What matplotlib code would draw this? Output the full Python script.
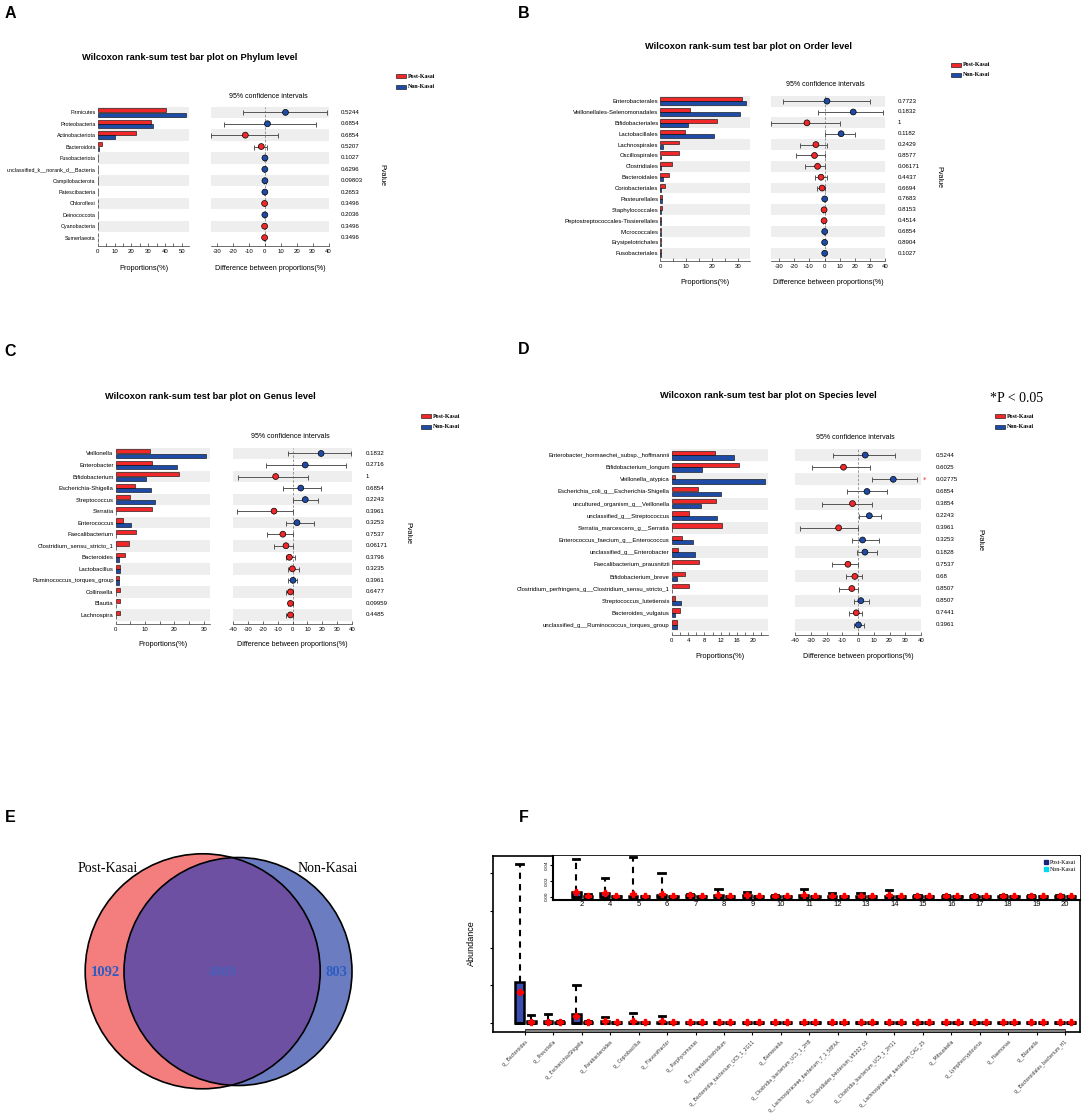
import numpy as np
import matplotlib.pyplot as plt
from matplotlib.patches import Rectangle, Circle
from matplotlib.lines import Line2D
from matplotlib.transforms import blended_transform_factory

plt.rcParams['axes.unicode_minus'] = False
NARROW = ['Liberation Sans Narrow', 'Liberation Sans', 'DejaVu Sans']
SERIF = ['Liberation Serif', 'DejaVu Serif']
SANS = ['Liberation Sans', 'DejaVu Sans']
RED = '#F0282A'
BLUE = '#1E4BA6'
BAND = '#EEEEEE'

# ---------------- data ----------------
a_names = ['Firmicutes', 'Proteobacteria', 'Actinobacteriota', 'Bacteroidota', 'Fusobacteriota',
           'unclassified_k__norank_d__Bacteria', 'Campilobacterota', 'Patescibacteria', 'Chloroflexi',
           'Deinococcota', 'Cyanobacteria', 'Sumerlaeota']
a_post = [40.5, 31.5, 23.0, 2.7, 0.3, 0.3, 0.15, 0.2, 0.2, 0.05, 0.2, 0.2]
a_non = [52.5, 33.0, 10.5, 0.8, 0.4, 0.2, 0.3, 0.2, 0.05, 0.2, 0.05, 0.02]
a_diff = [13.0, 1.7, -12.2, -2.2, 0.1, 0.05, 0.1, 0.05, -0.1, 0.05, -0.1, -0.1]
a_lo = [-13.8, -25.9, -34.0, -6.5, -0.4, -0.4, -0.3, -0.3, -0.4, -0.3, -0.4, -0.4]
a_hi = [38.9, 32.4, 8.2, 1.7, 0.5, 0.4, 0.5, 0.4, 0.2, 0.4, 0.2, 0.2]
a_p = ['0.5244', '0.6854', '0.6854', '0.5207', '0.1027', '0.6296', '0.09803', '0.2653',
       '0.3496', '0.2036', '0.3496', '0.3496']

b_names = ['Enterobacterales', 'Veillonellales-Selenomonadales', 'Bifidobacteriales', 'Lactobacillales',
           'Lachnospirales', 'Oscillospirales', 'Clostridiales', 'Bacteroidales', 'Coriobacteriales',
           'Pasteurellales', 'Staphylococcales', 'Peptostreptococcales-Tissierellales', 'Micrococcales',
           'Erysipelotrichales', 'Fusobacteriales']
b_post = [31.5, 11.6, 21.8, 9.4, 7.1, 7.1, 4.6, 3.2, 1.6, 0.8, 0.5, 0.4, 0.2, 0.2, 0.2]
b_non = [33.1, 30.8, 10.6, 20.9, 1.2, 0.3, 0.2, 0.9, 0.2, 0.8, 0.3, 0.1, 0.3, 0.2, 0.4]
b_diff = [1.6, 18.9, -11.6, 10.9, -5.7, -6.6, -4.6, -2.3, -1.6, 0.1, -0.3, -0.3, 0.1, 0.05, 0.1]
b_lo = [-27.3, -4.3, -35.0, 0.4, -15.9, -18.7, -12.8, -6.6, -5.0, -0.4, -0.8, -0.7, -0.3, -0.3, -0.3]
b_hi = [29.6, 38.7, 10.0, 19.8, 1.4, 0.5, 0.0, 1.4, 0.0, 0.6, 0.2, 0.1, 0.4, 0.4, 0.5]
b_p = ['0.7723', '0.1832', '1', '0.1182', '0.2429', '0.8577', '0.06171', '0.4437', '0.6694',
       '0.7683', '0.8153', '0.4514', '0.6854', '0.8904', '0.1027']

c_names = ['Veillonella', 'Enterobacter', 'Bifidobacterium', 'Escherichia-Shigella', 'Streptococcus',
           'Serratia', 'Enterococcus', 'Faecalibacterium', 'Clostridium_sensu_stricto_1', 'Bacteroides',
           'Lactobacillus', 'Ruminococcus_torques_group', 'Collinsella', 'Blautia', 'Lachnospira']
c_post = [11.6, 12.3, 21.7, 6.6, 5.0, 12.3, 2.6, 6.8, 4.6, 3.2, 1.5, 1.2, 1.5, 1.3, 1.3]
c_non = [30.6, 20.7, 10.3, 12.1, 13.5, 0.1, 5.3, 0.1, 0.1, 1.05, 1.5, 1.2, 0.1, 0.1, 0.1]
c_diff = [19.1, 8.5, -11.3, 5.5, 8.5, -12.4, 3.0, -6.5, -4.4, -2.1, -0.1, 0.3, -1.4, -1.4, -1.4]
c_lo = [-3.0, -18.0, -36.6, -6.2, 0.5, -37.1, -4.1, -17.0, -12.4, -4.6, -3.2, -3.2, -4.6, -3.0, -4.6]
c_hi = [39.4, 35.5, 10.1, 19.1, 17.0, 0.0, 14.1, 0.0, 0.0, 1.6, 4.1, 3.2, 0.5, 0.5, 0.5]
c_p = ['0.1832', '0.2716', '1', '0.6854', '0.2243', '0.3961', '0.3253', '0.7537', '0.06171',
       '0.3796', '0.3235', '0.3961', '0.6477', '0.09959', '0.4485']

d_names = ['Enterobacter_hormaechei_subsp._hoffmannii', 'Bifidobacterium_longum', 'Veillonella_atypica',
           'Escherichia_coli_g__Escherichia-Shigella', 'uncultured_organism_g__Veillonella',
           'unclassified_g__Streptococcus', 'Serratia_marcescens_g__Serratia',
           'Enterococcus_faecium_g__Enterococcus', 'unclassified_g__Enterobacter',
           'Faecalibacterium_prausnitzii', 'Bifidobacterium_breve',
           'Clostridium_perfringens_g__Clostridium_sensu_stricto_1', 'Streptococcus_lutetiensis',
           'Bacteroides_vulgatus', 'unclassified_g__Ruminococcus_torques_group']
d_post = [10.7, 16.6, 0.7, 6.5, 10.8, 4.1, 12.2, 2.5, 1.5, 6.6, 3.2, 4.25, 0.9, 2.0, 1.3]
d_non = [15.2, 7.4, 22.8, 12.0, 7.1, 11.1, 0.1, 5.3, 5.6, 0.1, 1.3, 0.1, 2.3, 0.9, 1.3]
d_diff = [4.6, -9.2, 22.4, 5.7, -3.5, 7.2, -12.3, 2.9, 4.4, -6.4, -2.0, -3.9, 1.8, -1.1, 0.3]
d_lo = [-15.8, -28.9, 9.2, -6.8, -22.6, 0.5, -36.6, -3.5, -0.9, -16.2, -7.7, -12.3, -2.6, -5.5, -2.6]
d_hi = [23.2, 7.5, 37.5, 18.6, 9.2, 14.7, 0.0, 13.6, 12.3, 0.0, 2.6, 0.0, 7.0, 2.6, 3.9]
d_p = ['0.5244', '0.6025', '0.02775', '0.6854', '0.3854', '0.2243', '0.3961', '0.3253', '0.1828',
       '0.7537', '0.68', '0.8507', '0.8507', '0.7441', '0.3961']

venn_counts = [1092, 4009, 803]
venn_groups = ['Post-Kasai', 'Non-Kasai']

f_names = ['g__Bacteroides', 'g__Prevotella', 'g__Escherichia/Shigella', 'g__Parabacteroides',
           'g__Coprobacillus', 'g__Flavonifractor', 'g__Porphyromonas', 'g__Erysipelatoclostridium',
           'g__Bacteroidia_bacterium_UC5_1_2G11', 'g__Barnesiella', 'g__Clostridia_bacterium_UC5_1_2H8',
           'g__Lachnospiraceae_bacterium_7_1_58FAA', 'g__Clostridiales_bacterium_VE202_03',
           'g__Clostridia_bacterium_UC5_1_2H11', 'g__Lachnospiraceae_bacterium_CAG_25',
           'g__Mitsuokella', 'g__Lymphocryptovirus', 'g__Haemonas', 'g__Blannella',
           'g__Bacteroidales_bacterium_H1']
f_post_q3 = [0.11, 0.004, 0.024, 0.004, 0.003, 0.003, 0.002, 0.002, 0.002, 0.002,
             0.002, 0.002, 0.002, 0.002, 0.002, 0.002, 0.002, 0.002, 0.002, 0.002]
f_post_hi = [0.425, 0.024, 0.101, 0.015, 0.027, 0.017, 0.003, 0.003, 0.003, 0.003,
             0.003, 0.003, 0.003, 0.003, 0.003, 0.003, 0.003, 0.003, 0.003, 0.003]
f_post_mean = [0.081, 0.003, 0.019, 0.004, 0.004, 0.004, 0.002, 0.002, 0.002, 0.002,
               0.002, 0.002, 0.002, 0.002, 0.002, 0.002, 0.002, 0.002, 0.002, 0.002]
f_non_q3 = [0.004, 0.003, 0.003, 0.002, 0.002, 0.002, 0.002, 0.002, 0.002, 0.002,
            0.002, 0.002, 0.002, 0.002, 0.002, 0.002, 0.002, 0.002, 0.002, 0.002]
f_non_hi = [0.02, 0.004, 0.004, 0.002, 0.002, 0.002, 0.002, 0.002, 0.002, 0.002,
            0.002, 0.002, 0.002, 0.002, 0.002, 0.002, 0.002, 0.002, 0.002, 0.002]
f_non_mean = [0.002, 0.002, 0.002, 0.002, 0.002, 0.002, 0.002, 0.002, 0.002, 0.002,
              0.002, 0.002, 0.002, 0.002, 0.002, 0.002, 0.002, 0.002, 0.002, 0.002]

# zoomed inset, taxa 3..20
ins_labels = ['2', '4', '5', '6', '7', '8', '9', '10', '11', '12', '13', '14', '15', '16', '17', '18', '19', '20']
ins_post_q3 = [0.0058, 0.0052, 0.0012, 0.0015, 0.0018, 0.0015, 0.0015, 0.0012, 0.0015,
               0.0012, 0.0012, 0.0012, 0.0008, 0.0008, 0.0008, 0.0008, 0.0008, 0.0008]
ins_post_hi = [0.048, 0.024, 0.050, 0.030, 0.0028, 0.0097, 0.0065, 0.0025, 0.0097,
               0.0052, 0.0044, 0.0083, 0.0015, 0.0015, 0.0015, 0.0015, 0.0015, 0.0015]
ins_post_mean = [0.0065, 0.0042, 0.0038, 0.0032, 0.0015, 0.0018, 0.0015, 0.001, 0.0018,
                 0.0013, 0.0012, 0.0015, 0.0008, 0.0008, 0.0008, 0.0008, 0.0008, 0.0008]
ins_non_q3 = [0.0012, 0.0008, 0.0008, 0.0008, 0.0008, 0.0008, 0.0008, 0.0008, 0.0008,
              0.0008, 0.0008, 0.0008, 0.0008, 0.0008, 0.0008, 0.0008, 0.0008, 0.0008]
ins_non_hi = [0.003, 0.001, 0.001, 0.001, 0.0012, 0.001, 0.001, 0.001, 0.001,
              0.001, 0.001, 0.001, 0.001, 0.001, 0.001, 0.001, 0.001, 0.001]
ins_non_mean = [0.0006] * 18

# ---------------- layout helpers (pixel coords, y down) ----------------
W, H = 1084, 1114
fig = plt.figure(figsize=(W / 100, H / 100), dpi=100)


def rect(x0, y0, x1, y1):
    return [x0 / W, 1 - y1 / H, (x1 - x0) / W, (y1 - y0) / H]


def ftext(x, y, s, **kw):
    kw.setdefault('ha', 'center')
    kw.setdefault('va', 'center')
    fig.text(x / W, 1 - y / H, s, **kw)


def legend_box(x0, y, color, label):
    fig.add_artist(Rectangle((x0 / W, 1 - (y + 2) / H), 10 / W, 4 / H, transform=fig.transFigure,
                             fc=color, ec='black', lw=0.4))
    ftext(x0 + 12, y, label, ha='left', fontsize=4.3, family=SERIF, weight='bold')


def stamp(names, post, non, diff, lo, hi, pvals, g):
    n = len(names)
    row = (g['bot'] - g['top']) / n
    extra = (g['spine'] - g['bot']) / row
    y = np.arange(n)

    axb = fig.add_axes(rect(g['bx0'], g['top'], g['bx1'], g['spine']))
    for i in range(0, n, 2):
        axb.axhspan(i - 0.5, i + 0.5, color=BAND, lw=0, zorder=0)
    axb.barh(y - 0.19, post, height=0.36, color=RED, edgecolor='black', lw=0.4, zorder=2)
    axb.barh(y + 0.19, non, height=0.36, color=BLUE, edgecolor='black', lw=0.4, zorder=2)
    axb.set_xlim(0, g['bmax'])
    axb.set_ylim(n - 0.5 + extra, -0.5)
    axb.set_xticks(g['bticks'])
    axb.set_xticks(g['bminor'], minor=True)
    axb.set_yticks(y)
    axb.set_yticklabels(names, fontsize=g.get('lfs', 4.3), family=NARROW)
    axb.tick_params(axis='y', length=0, pad=1.5)

    axd = fig.add_axes(rect(g['dx0'], g['top'], g['dx1'], g['spine']))
    for i in range(0, n, 2):
        axd.axhspan(i - 0.5, i + 0.5, color=BAND, lw=0, zorder=0)
    axd.axvline(0, color='#888888', ls=(0, (3, 2)), lw=0.6, zorder=1)
    d = np.array(diff)
    axd.errorbar(d, y, xerr=[d - np.array(lo), np.array(hi) - d], fmt='none', ecolor='#555555',
                 elinewidth=0.7, capsize=1.8, capthick=0.7, zorder=2)
    cols = [BLUE if v > 0 else RED for v in diff]
    axd.scatter(d, y, s=18, c=cols, edgecolors='black', linewidths=0.5, zorder=3)
    axd.set_xlim(*g['dlim'])
    axd.set_ylim(n - 0.5 + extra, -0.5)
    axd.set_xticks(g['dticks'])
    axd.set_yticks([])

    for ax in (axb, axd):
        for s in ('left', 'top', 'right'):
            ax.spines[s].set_visible(False)
        ax.spines['bottom'].set_linewidth(0.5)
        ax.spines['bottom'].set_color('#333333')
        ax.tick_params(axis='x', which='both', direction='in', length=2.2, width=0.5,
                       labelsize=4.3, pad=2.5, color='#333333')
        for t in ax.get_xticklabels():
            t.set_family(NARROW)

    tr = blended_transform_factory(fig.transFigure, axd.transData)
    for i, p in enumerate(pvals):
        axd.text(g['px'] / W, i, p, transform=tr, ha='left', va='center', fontsize=4.4, family=NARROW)

    ftext(g['title'][0], g['title'][1], g['name'], fontsize=6.7, weight='bold', family=NARROW)
    ftext(g['ci'][0], g['ci'][1], '95% confidence intervals', fontsize=5.0, family=NARROW)
    ftext(g['pv'][0], g['pv'][1], 'Pvalue', rotation=270, fontsize=5.2, family=NARROW)
    ftext((g['bx0'] + g['bx1']) / 2, g['xl'], 'Proportions(%)', fontsize=5.3, family=NARROW)
    ftext((g['dx0'] + g['dx1']) / 2, g['xl'], 'Difference between proportions(%)', fontsize=5.1, family=NARROW)
    legend_box(g['leg'][0], g['leg'][1], RED, 'Post-Kasai')
    legend_box(g['leg'][0], g['leg'][2], BLUE, 'Non-Kasai')
    return axd, tr


# ---------------- A ----------------
stamp(a_names, a_post, a_non, a_diff, a_lo, a_hi, a_p,
      dict(bx0=97.8, bx1=189.4, top=106.7, bot=243.3, spine=246, bmax=54.5, lfs=3.9,
           bticks=[0, 10, 20, 30, 40, 50], bminor=[5, 15, 25, 35, 45],
           dx0=211.4, dx1=328.5, dlim=(-33.5, 40), dticks=[-30, -20, -10, 0, 10, 20, 30, 40],
           px=341, title=(190, 57), ci=(268, 96), pv=(382, 175), xl=268, leg=(396, 76, 86.7),
           name='Wilcoxon rank-sum test bar plot on Phylum level'))

# ---------------- B ----------------
stamp(b_names, b_post, b_non, b_diff, b_lo, b_hi, b_p,
      dict(bx0=660.4, bx1=749.9, top=95.7, bot=258.7, spine=261, bmax=34.7,
           bticks=[0, 10, 20, 30], bminor=[5, 15, 25],
           dx0=771.4, dx1=885.3, dlim=(-35, 40), dticks=[-30, -20, -10, 0, 10, 20, 30, 40],
           px=898, title=(748.5, 46.7), ci=(825, 84), pv=(939, 177), xl=282, leg=(951, 65, 75),
           name='Wilcoxon rank-sum test bar plot on Order level'))

# ---------------- C ----------------
stamp(c_names, c_post, c_non, c_diff, c_lo, c_hi, c_p,
      dict(bx0=115.7, bx1=210, top=447.7, bot=620.7, spine=624, bmax=32.1,
           bticks=[0, 10, 20, 30], bminor=[5, 15, 25],
           dx0=232.8, dx1=352.3, dlim=(-40, 40), dticks=[-40, -30, -20, -10, 0, 10, 20, 30, 40],
           px=365.7, title=(210, 396.7), ci=(290.3, 436.7), pv=(408, 533), xl=645, leg=(421, 416, 426.7),
           name='Wilcoxon rank-sum test bar plot on Genus level'))

# ---------------- D ----------------
axd, trd = stamp(d_names, d_post, d_non, d_diff, d_lo, d_hi, d_p,
                 dict(bx0=671.8, bx1=768, top=449, bot=631, spine=635, bmax=23.6,
                      bticks=[0, 4, 8, 12, 16, 20], bminor=[2, 6, 10, 14, 18, 22],
                      dx0=795, dx1=921, dlim=(-40, 40), dticks=[-40, -30, -20, -10, 0, 10, 20, 30, 40],
                      px=935.6, title=(768.7, 395.7), ci=(855.8, 437.3), pv=(980, 540), xl=657,
                      leg=(994.5, 416, 427),
                      name='Wilcoxon rank-sum test bar plot on Species level'))
for i, p in enumerate(d_p):
    if float(p) < 0.05:
        axd.text(923 / W, i, '*', transform=trd, color=RED, ha='left', va='center', fontsize=5)
ftext(1017, 398, '*P < 0.05', fontsize=10, family=SERIF)

# ---------------- E: Venn ----------------
axe = fig.add_axes(rect(0, 830, 540, 1114))
axe.set_xlim(0, 540)
axe.set_ylim(1114, 830)
axe.axis('off')
c_red = Circle((202.7, 971.3), 117.5, fc='#F47E7E', ec='none')
c_blue = Circle((238, 971.5), 114, fc='#6C7CC0', ec='none')
c_mid = Circle((238, 971.5), 114, fc='#6E50A2', ec='none')
axe.add_patch(c_red)
axe.add_patch(c_blue)
axe.add_patch(c_mid)
c_mid.set_clip_path(c_red)
axe.add_patch(Circle((202.7, 971.3), 117.5, fc='none', ec='black', lw=1.2))
axe.add_patch(Circle((238, 971.5), 114, fc='none', ec='black', lw=1.2))
axe.text(108, 869, venn_groups[0], ha='center', va='center', fontsize=10, family=SERIF)
axe.text(328, 869, venn_groups[1], ha='center', va='center', fontsize=10, family=SERIF)
axe.text(105, 972, str(venn_counts[0]), ha='center', va='center', fontsize=10.5, family=SERIF,
         weight='bold', color='#2D5DC2')
axe.text(222, 972, str(venn_counts[1]), ha='center', va='center', fontsize=10.5, family=SERIF,
         weight='bold', color='#4B5FB8')
axe.text(336, 972, str(venn_counts[2]), ha='center', va='center', fontsize=10.5, family=SERIF,
         weight='bold', color='#2D5DC2')


# ---------------- F: boxplots ----------------
def draw_boxes(ax, pos, q3, hi, mean, fill):
    st = [dict(med=0.0, q1=0.0, q3=a, whislo=0.0, whishi=b, mean=m, fliers=[])
          for a, b, m in zip(q3, hi, mean)]
    ax.bxp(st, positions=pos, widths=0.3, patch_artist=True, showmeans=True, showfliers=False,
           manage_ticks=False, capwidths=0.22,
           boxprops=dict(facecolor=fill, edgecolor='black', linewidth=1.8),
           whiskerprops=dict(color='black', linewidth=1.5, linestyle=(0, (3, 2.5))),
           capprops=dict(color='black', linewidth=2),
           medianprops=dict(color='black', linewidth=2),
           meanprops=dict(marker='P', markerfacecolor='red', markeredgecolor='red', markersize=4.5))


axf = fig.add_axes(rect(493, 856, 1080, 1032))
taxa = np.arange(1, len(f_names) + 1)
draw_boxes(axf, taxa - 0.19, f_post_q3, f_post_hi, f_post_mean, '#3A4DB0')
draw_boxes(axf, taxa + 0.22, f_non_q3, f_non_hi, f_non_mean, '#00BFFF')
axf.set_xlim(-0.126, 20.53)
axf.set_ylim(-0.025, 0.446)
axf.set_yticks([0, 0.1, 0.2, 0.3, 0.4])
axf.set_yticklabels([])
axf.set_xticks(taxa)
axf.set_xticklabels(f_names, rotation=45, ha='right', va='top', rotation_mode='anchor',
                    fontsize=3.3, color='#333333')
axf.tick_params(axis='both', direction='out', length=2.5, width=0.8, pad=2)
for s in axf.spines.values():
    s.set_linewidth(1.2)
axf.add_patch(Rectangle((1, -0.025), 19, 0.009, transform=axf.transData, fc='#808080', ec='black',
                        lw=0.5, clip_on=False, zorder=5))
ftext(471, 943, 'Abundance', rotation=90, fontsize=6.5, family=SANS)

axi = fig.add_axes(rect(553.3, 856, 1080, 900))
ipos = np.arange(3, 3 + len(ins_labels))
draw_boxes(axi, ipos - 0.19, ins_post_q3, ins_post_hi, ins_post_mean, '#3A4DB0')
draw_boxes(axi, ipos + 0.22, ins_non_q3, ins_non_hi, ins_non_mean, '#00BFFF')
axi.set_xlim(2.0, 20.53)
axi.set_ylim(-0.0042, 0.0515)
axi.set_xticks(ipos)
axi.set_xticklabels(ins_labels, fontsize=5.5, family=SANS)
axi.tick_params(axis='x', length=0, pad=1)
axi.set_yticks([0, 0.02, 0.04])
axi.set_yticklabels(['0.00', '0.02', '0.04'], rotation=90, va='center', fontsize=3.2)
axi.tick_params(axis='y', direction='out', length=2, width=0.8, pad=1)
axi.spines['top'].set_visible(False)
axi.spines['right'].set_visible(False)
axi.spines['left'].set_linewidth(1.5)
axi.spines['bottom'].set_linewidth(1.5)
handles = [Line2D([], [], marker='s', ls='', color='#1A237E', ms=2.5),
           Line2D([], [], marker='s', ls='', color='#00D8F0', ms=2.5)]
axi.legend(handles, venn_groups, loc='upper right', frameon=False, handletextpad=0.2,
           borderaxespad=0.3, labelspacing=0.3, handlelength=1, prop=dict(family=SERIF, size=4.3))

# ---------------- panel letters ----------------
for lab, (x, y) in zip('ABCDEF', [(10, 14), (524, 14), (10, 351), (524, 349), (10, 817), (524, 817)]):
    ftext(x, y, lab, fontsize=11.5, weight='bold', family=SANS)

fig.savefig('out.png', dpi=100)
